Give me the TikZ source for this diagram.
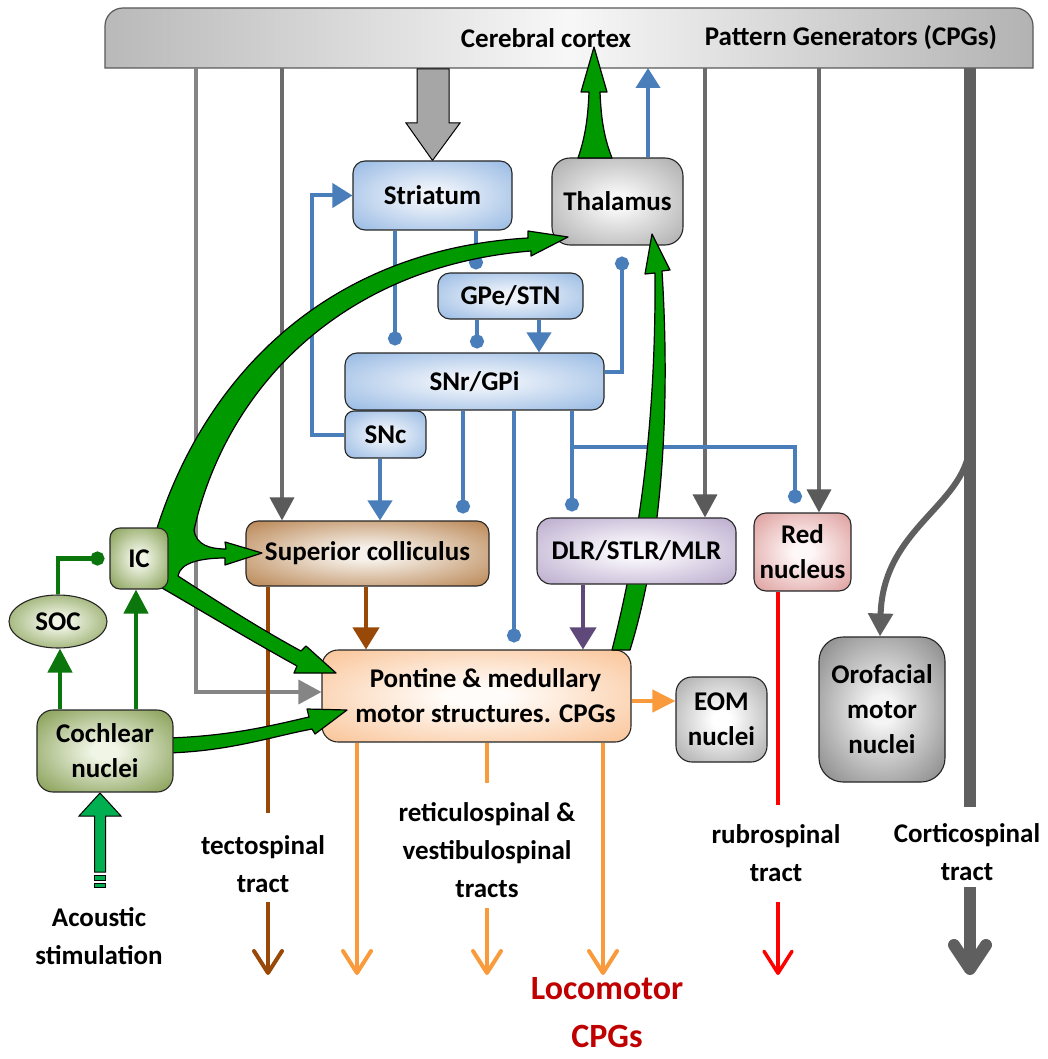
\documentclass[tikz,border=0pt]{standalone}
\usepackage{fontspec}
\setmainfont{Carlito}
\usetikzlibrary{arrows.meta,shapes.geometric}
\pgfdeclarelayer{bg}
\pgfdeclarelayer{lines}
\pgfdeclarelayer{greenl}
\pgfdeclarelayer{top}
\pgfsetlayers{bg,lines,main,greenl,top}
\definecolor{bluel}{HTML}{4A7EBB}
\definecolor{blueIn}{HTML}{EEF3FA}
\definecolor{blueOut}{HTML}{8AB1E0}
\definecolor{thIn}{HTML}{F6F6F6}
\definecolor{thOut}{HTML}{A0A0A0}
\definecolor{scIn}{HTML}{F6F1EA}
\definecolor{scOut}{HTML}{B0753C}
\definecolor{dlIn}{HTML}{FAF8FC}
\definecolor{dlOut}{HTML}{B09FC6}
\definecolor{rdIn}{HTML}{FFF8F8}
\definecolor{rdOut}{HTML}{D78F8D}
\definecolor{gnIn}{HTML}{F0F5E6}
\definecolor{gnOut}{HTML}{728E38}
\definecolor{poIn}{HTML}{FFFCF9}
\definecolor{poOut}{HTML}{F9BB88}
\definecolor{eoIn}{HTML}{FFFFFF}
\definecolor{eoOut}{HTML}{9C9C9C}
\definecolor{orIn}{HTML}{F4F4F4}
\definecolor{orOut}{HTML}{747474}
\definecolor{grline}{HTML}{6B6B6B}
\definecolor{grhead}{HTML}{5A5A5A}
\definecolor{grlight}{HTML}{858585}
\definecolor{cstc}{HTML}{5F5F5F}
\definecolor{bigarr}{HTML}{A6A6A6}
\definecolor{brn}{HTML}{984807}
\definecolor{purp}{HTML}{5F497A}
\definecolor{orng}{HTML}{F99B3C}
\definecolor{rubr}{HTML}{FF0000}
\definecolor{loco}{HTML}{C00000}
\definecolor{gfill}{HTML}{009A00}
\definecolor{dgreen}{HTML}{0B760B}
\definecolor{acou}{HTML}{00B050}
\newcommand\mkshade[3]{\pgfdeclareradialshading{#1}{\pgfpointorigin}{color(0bp)=(#2); color(5bp)=(#2); color(40bp)=(#3); color(50bp)=(#3)}}
\mkshade{shBlue}{blueIn}{blueOut}
\mkshade{shTh}{thIn}{thOut}
\mkshade{shSc}{scIn}{scOut}
\mkshade{shDl}{dlIn}{dlOut}
\mkshade{shRd}{rdIn}{rdOut}
\mkshade{shGn}{gnIn}{gnOut}
\mkshade{shPo}{poIn}{poOut}
\mkshade{shEo}{eoIn}{eoOut}
\mkshade{shOr}{orIn}{orOut}
\begin{document}
\begin{tikzpicture}[x=1pt,y=-1pt,
  box/.style={draw=black!85,line width=1.1pt,rounded corners=12pt,align=center,inner sep=0pt,shade,font=\bfseries\fontsize{27}{35}\selectfont},
  bluebox/.style={box,shading=shBlue},
  thbox/.style={box,shading=shTh},
  scbox/.style={box,shading=shSc},
  dlbox/.style={box,shading=shDl},
  rdbox/.style={box,shading=shRd},
  gnbox/.style={box,shading=shGn},
  pobox/.style={box,shading=shPo},
  eobox/.style={box,shading=shEo},
  orbox/.style={box,shading=shOr},
  lab/.style={align=center,inner sep=0pt,font=\bfseries\fontsize{27}{38}\selectfont},
  bl/.style={draw=bluel,line width=4pt},
  bltri/.style={bl,-{Triangle[width=24pt,length=20pt]}},
  bldot/.style={bl,-{Circle[length=14pt,width=14pt]}},
  grl/.style={draw=grline,line width=3.5pt,-{Triangle[width=24pt,length=23pt,color=grhead]}},
  dgl/.style={draw=dgreen,line width=4.5pt,-{Triangle[width=24pt,length=24pt]}},
  dgdot/.style={draw=dgreen,line width=4.5pt,-{Circle[length=14pt,width=14pt]}},
  brl/.style={draw=brn,line width=4pt},
  orl/.style={draw=orng,line width=4pt},
  rul/.style={draw=rubr,line width=3.5pt},
  barbtip/.style={-{Straight Barb[length=22pt,width=28pt,round]}},
  gshape/.style={fill=gfill,draw=black,line width=1.2pt,line join=round}
]
\useasboundingbox (0,0) rectangle (1047,1059);
\begin{pgfonlayer}{bg}
\fill[white] (0,0) rectangle (1047,1059);
\path[draw=black!65,line width=1.2pt,left color=gray!55,right color=gray!60,middle color=gray!6] (105,68) [rounded corners=18pt] -- (105,8) -- (1033,8) [sharp corners] -- (1033,68) -- cycle;
\end{pgfonlayer}
\coordinate (barb) at (0,68);
\node[lab] (ctx) at (546,38) {Cerebral cortex};
\node[lab] (pgen) at (851,38) {Pattern Generators (CPGs)};

% ---------- nodes ----------
\node[bluebox,minimum width=159pt,minimum height=69pt] (striatum) at (432.5,195.5) {Striatum};
\node[thbox,rounded corners=18pt,minimum width=131pt,minimum height=87pt] (thalamus) at (617.5,201.5) {Thalamus};
\node[bluebox,minimum width=145pt,minimum height=46pt] (gpe) at (510.5,296) {GPe/STN};
\node[bluebox,minimum width=259pt,minimum height=57pt] (snr) at (474.5,381.5) {SNr/GPi};
\node[bluebox,rounded corners=9pt,minimum width=81pt,minimum height=47pt] (snc) at (385.5,434.5) {SNc};
\node[scbox,minimum width=243pt,minimum height=65pt] (sc) at (367.5,553.5) {Superior colliculus};
\node[rdbox,minimum width=97pt,minimum height=78pt] (red) at (802.5,552) {Red\\nucleus};
\node[gnbox,ellipse,sharp corners,minimum width=98pt,minimum height=53pt] (soc) at (58,621.5) {SOC};
\node[pobox,rounded corners=16pt,minimum width=309pt,minimum height=92pt] (pontine) at (476.5,696) {\hspace*{18pt}Pontine \& medullary\\\hspace*{18pt}motor structures. CPGs};
\node[eobox,rounded corners=16pt,minimum width=91pt,minimum height=85pt] (eom) at (721.5,719.5) {EOM\\nuclei};
\node[orbox,rounded corners=24pt,minimum width=126pt,minimum height=145pt] (oro) at (882,709.5) {Orofacial\\motor\\nuclei};
\begin{pgfonlayer}{top}
\node[gnbox,rounded corners=10pt,minimum width=58pt,minimum height=61pt] (ic) at (139,558.5) {IC};
\node[gnbox,rounded corners=16pt,minimum width=136pt,minimum height=82pt] (cochlear) at (105,751) {Cochlear\\nuclei};
\node[dlbox,rounded corners=14pt,minimum width=199pt,minimum height=66pt] (dlr) at (636.5,551) {DLR/STLR/MLR};
\end{pgfonlayer}

% free labels
\node[lab] (tecto) at (263,864) {tectospinal\\tract};
\node[lab] (retic) at (487,850) {reticulospinal \&\\vestibulospinal\\tracts};
\node[lab,text=loco,font=\bfseries\fontsize{34}{48}\selectfont] (locotext) at (607,1013) {Locomotor\\CPGs};
\node[lab] (rubro) at (776,853) {rubrospinal\\tract};
\node[lab] (corti) at (967,852) {Corticospinal\\tract};
\node[lab] (acoustic) at (99,936) {Acoustic\\stimulation};

% coordinates for free ends
\coordinate (bj) at (572,447);
\coordinate (tectA) at (268,813);
\coordinate (tectB) at (268,902);
\coordinate (tectE) at (268,975);
\coordinate (or1) at (357,975);
\coordinate (retA) at (487,783);
\coordinate (retB) at (487,908);
\coordinate (retE) at (487,975);
\coordinate (or3) at (603,975);
\coordinate (rubA) at (778,805);
\coordinate (rubB) at (778,902);
\coordinate (rubE) at (778,975);
\coordinate (cstA) at (970,807);
\coordinate (cstB) at (970,887);
\coordinate (cstE) at (970,975);
\coordinate (cstBr) at (970,440);

\begin{pgfonlayer}{lines}
% big gray arrow cortex -> striatum
\path[fill=bigarr,draw=black,line width=1pt,line join=miter] (417,69) -- (449,69) -- (449,123) -- (460,123) -- (striatum.north) -- (406,123) -- (417,123) -- cycle;
% thin gray descending lines
\draw[draw=grlight,line width=3.5pt,-{Triangle[width=24pt,length=23pt,color=grlight]}] (196,0 |- barb) |- (pontine.west |- 0,692);
\draw[grl] (282,0 |- barb) -- (sc.north -| 282,0);
\draw[grl] (705,0 |- barb) -- (dlr.north -| 705,0);
\draw[grl] (819,0 |- barb) -- (red.north -| 819,0);
% corticospinal
\draw[draw=cstc,line width=12pt] (970,0 |- barb) -- (cstA);
\draw[draw=cstc,line width=6pt,-{Triangle[width=24pt,length=23pt]}] (cstBr) .. controls (970,505) and (883,525) .. (oro.north -| 880,0);
\draw[draw=cstc,line width=12pt,-{Straight Barb[length=24pt,width=32pt,round]}] (cstB) -- (cstE);
% blue basal ganglia connections
\draw[bltri] (thalamus.north -| 648,0) -- (648,0 |- barb);
\draw[bltri] (snc.west) -- ++(-32,0) |- (striatum.west);
\draw[bldot,shorten >=7pt] (striatum.south -| 395,0) -- (snr.north -| 395,0);
\draw[bldot,shorten >=3pt] (striatum.south -| 476,0) -- (gpe.north -| 476,0);
\draw[bldot,shorten >=4pt] (gpe.south -| 477,0) -- (snr.north -| 477,0);
\draw[bltri] (gpe.south -| 539,0) -- (snr.north -| 539,0);
\draw[bldot,shorten >=11pt] ([yshift=10pt]snr.east) -| (thalamus.south -| 622,0);
\draw[bltri] (snc.south -| 380,0) -- (sc.north -| 380,0);
\draw[bldot,shorten >=7pt] (snr.south -| 463,0) -- (sc.north -| 463,0);
\draw[bldot,shorten >=7pt] (snr.south -| 514,0) -- (pontine.north -| 514,0);
\draw[bldot,shorten >=6pt] (snr.south -| 572,0) -- (dlr.north -| 572,0);
\draw[bldot,shorten >=9pt] (bj) -| (red.north -| 795,0);
% descending tracts
\draw[brl] (sc.south -| tectA) -- (tectA);
\draw[brl,barbtip] (tectB) -- (tectE);
\draw[brl,-{Triangle[width=26pt,length=22pt]}] (sc.south -| 366,0) -- (pontine.north -| 366,0);
\draw[draw=purp,line width=4pt,-{Triangle[width=26pt,length=22pt]}] (dlr.south -| 583,0) -- (pontine.north -| 583,0);
\draw[orl,barbtip] (pontine.south -| or1) -- (or1);
\draw[orl] (pontine.south -| retA) -- (retA);
\draw[orl,barbtip] (retB) -- (retE);
\draw[orl,barbtip] (pontine.south -| or3) -- (or3);
\draw[orl,-{Triangle[width=22pt,length=23pt]}] (pontine.east |- 0,701) -- (eom.west |- 0,701);
\draw[rul] (red.south -| rubA) -- (rubA);
\draw[rul,barbtip] (rubB) -- (rubE);
% auditory pathway (thin)
\draw[dgl] (cochlear.north -| 60,0) -- (soc.south -| 60,0);
\draw[dgl] (cochlear.north -| 136,0) -- (ic.south -| 136,0);
\draw[dgdot,shorten >=5pt] (soc.north) |- (ic.west);
\end{pgfonlayer}

\begin{pgfonlayer}{greenl}
% IC bundle: to thalamus, superior colliculus, pontine
\path[gshape] (152,545) .. controls (197,385) and (320,250) .. (528,238)
  -- (528,231) -- (568,237) -- (531,256) -- (531,251)
  .. controls (342,266) and (226,388) .. (194,530)
  .. controls (196,545) and (210,549) .. (226,549)
  -- (225,542) -- (262,553) -- (225,565) -- (225,558)
  .. controls (200,558) and (180,563) .. (178,576)
  .. controls (215,600) and (262,630) .. (301,651)
  -- (306,646) -- (336,673) -- (294,673) -- (297,666)
  .. controls (250,640) and (200,610) .. (162,588)
  -- (150,570) -- cycle;
% cochlear -> pontine
\path[gshape] (168,738) .. controls (230,736) and (270,726) .. (309,717)
  -- (307,709) -- (347,710) -- (315,734) -- (312,729)
  .. controls (270,737) and (230,751) .. (168,753) -- cycle;
% thalamus -> cortex
\path[gshape] (578,158) .. controls (586,135) and (588,115) .. (589,92)
  -- (581,92) -- (594,47) -- (607,92) -- (600,92)
  .. controls (601,115) and (603,135) .. (612,158) -- cycle;
% pontine -> thalamus
\path[gshape] (612,650) .. controls (640,540) and (656,420) .. (655,273)
  -- (645,274) -- (652,234) -- (670,270) -- (662,271)
  .. controls (670,400) and (664,540) .. (630,650) -- cycle;
% acoustic stimulation
\path[fill=acou,draw=black,line width=1pt] (100,793) -- (121,816) -- (105.5,816) -- (105.5,872) -- (94.5,872) -- (94.5,816) -- (79,816) -- cycle;
\path[fill=acou,draw=black,line width=1pt] (94.5,875) rectangle (105.5,880);
\path[fill=acou,draw=black,line width=1pt] (94.5,883) rectangle (105.5,887);
\end{pgfonlayer}
\end{tikzpicture}
\end{document}
